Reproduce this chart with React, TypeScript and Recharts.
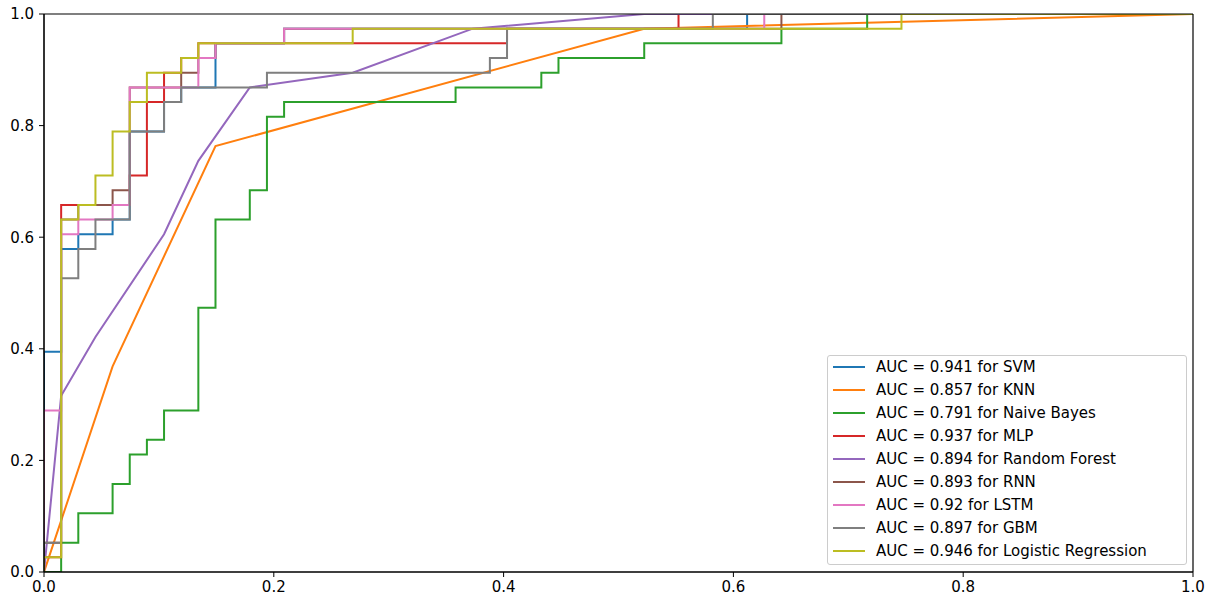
import { LineChart, Line, XAxis, YAxis, ReferenceLine } from 'recharts';

// test set size: roc points below are counted in negatives (fpr) and positives (tpr)
const NEG = 67;
const POS = 38;

const AXIS_TICKS = [0, 0.2, 0.4, 0.6, 0.8, 1.0];

const svmFpr = [0, 0, 1, 1, 2, 2, 4, 4, 5, 5, 7, 7, 8, 8, 10, 10, 14, 14, 41, 41, 67];
const svmTpr = [0, 15, 15, 22, 22, 23, 23, 24, 24, 30, 30, 32, 32, 33, 33, 36, 36, 37, 37, 38, 38];

const knnFpr = [0, 4, 10, 35, 67];
const knnTpr = [0, 14, 29, 37, 38];

const nbFpr = [0, 1, 1, 2, 2, 4, 4, 5, 5, 6, 6, 7, 7, 9, 9, 10, 10, 12, 12, 13, 13, 14, 14, 24, 24, 29, 29, 30, 30, 35, 35, 43, 43, 48, 48, 67];
const nbTpr = [0, 0, 2, 2, 4, 4, 6, 6, 8, 8, 9, 9, 11, 11, 18, 18, 24, 24, 26, 26, 31, 31, 32, 32, 33, 33, 34, 34, 35, 35, 36, 36, 37, 37, 38, 38];

const mlpFpr = [0, 0, 1, 1, 5, 5, 6, 6, 7, 7, 8, 8, 9, 9, 27, 27, 37, 37, 67];
const mlpTpr = [0, 1, 1, 25, 25, 27, 27, 32, 32, 34, 34, 35, 35, 36, 36, 37, 37, 38, 38];

const rfFpr = [0, 1, 3, 7, 9, 12, 18, 25, 35, 67];
const rfTpr = [0, 12, 16, 23, 28, 33, 34, 37, 38, 38];

const rnnFpr = [0, 0, 1, 1, 2, 2, 4, 4, 5, 5, 8, 8, 9, 9, 10, 10, 14, 14, 43, 43, 67];
const rnnTpr = [0, 2, 2, 24, 24, 25, 25, 26, 26, 33, 33, 34, 34, 35, 35, 36, 36, 37, 37, 38, 38];

const lstmFpr = [0, 0, 1, 1, 2, 2, 4, 4, 5, 5, 9, 9, 10, 10, 14, 14, 42, 42, 67];
const lstmTpr = [0, 11, 11, 23, 23, 24, 24, 25, 25, 33, 33, 35, 35, 36, 36, 37, 37, 38, 38];

const gbmFpr = [0, 0, 1, 1, 2, 2, 3, 3, 5, 5, 7, 7, 8, 8, 13, 13, 26, 26, 27, 27, 39, 39, 67];
const gbmTpr = [0, 2, 2, 20, 20, 22, 22, 24, 24, 30, 30, 32, 32, 33, 33, 34, 34, 35, 35, 37, 37, 38, 38];

const lrFpr = [0, 0, 1, 1, 2, 2, 3, 3, 4, 4, 5, 5, 6, 6, 8, 8, 9, 9, 18, 18, 50, 50, 67];
const lrTpr = [0, 1, 1, 24, 24, 25, 25, 27, 27, 30, 30, 32, 32, 34, 34, 35, 35, 36, 36, 37, 37, 38, 38];

const toPoints = (fpr: number[], tpr: number[]) =>
  fpr.map((f, i) => ({ fpr: f / NEG, tpr: tpr[i] / POS }));

// drawn in this order, so Logistic Regression ends up on top
const MODELS = [
  { name: 'SVM', auc: '0.941', color: '#1f77b4', points: toPoints(svmFpr, svmTpr) },
  { name: 'KNN', auc: '0.857', color: '#ff7f0e', points: toPoints(knnFpr, knnTpr) },
  { name: 'Naive Bayes', auc: '0.791', color: '#2ca02c', points: toPoints(nbFpr, nbTpr) },
  { name: 'MLP', auc: '0.937', color: '#d62728', points: toPoints(mlpFpr, mlpTpr) },
  { name: 'Random Forest', auc: '0.894', color: '#9467bd', points: toPoints(rfFpr, rfTpr) },
  { name: 'RNN', auc: '0.893', color: '#8c564b', points: toPoints(rnnFpr, rnnTpr) },
  { name: 'LSTM', auc: '0.92', color: '#e377c2', points: toPoints(lstmFpr, lstmTpr) },
  { name: 'GBM', auc: '0.897', color: '#7f7f7f', points: toPoints(gbmFpr, gbmTpr) },
  { name: 'Logistic Regression', auc: '0.946', color: '#bcbd22', points: toPoints(lrFpr, lrTpr) },
];

const FONT = '"DejaVu Sans", sans-serif';
const tickStyle = { fill: '#000', fontSize: 15, fontFamily: FONT };

function RocLegend() {
  return (
    <div
      style={{
        position: 'absolute',
        left: 827,
        top: 355,
        width: 360,
        height: 210,
        boxSizing: 'border-box',
        border: '1px solid #cccccc',
        borderRadius: 3,
        background: 'rgba(255,255,255,0.8)',
        paddingLeft: 5,
        fontFamily: FONT,
        fontSize: 15,
        color: '#000',
      }}
    >
      {MODELS.map((m) => (
        <div key={m.name} style={{ display: 'flex', alignItems: 'center', height: 22.9 }}>
          <span style={{ display: 'inline-block', width: 32, height: 2, background: m.color }} />
          <span style={{ marginLeft: 11, whiteSpace: 'nowrap' }}>
            AUC = {m.auc} for {m.name}
          </span>
        </div>
      ))}
    </div>
  );
}

export default function App() {
  return (
    <div
      style={{
        position: 'fixed',
        left: 0,
        top: 0,
        width: 1214,
        height: 601,
        background: '#fff',
      }}
    >
      <LineChart width={1214} height={601} margin={{ top: 14, right: 21, bottom: 0, left: 0 }}>
        <XAxis
          type="number"
          dataKey="fpr"
          domain={[0, 1]}
          ticks={AXIS_TICKS}
          tickFormatter={(v: number) => v.toFixed(1)}
          height={29}
          tickSize={5}
          tickMargin={4}
          tick={tickStyle}
          axisLine={{ stroke: '#000' }}
          tickLine={{ stroke: '#000' }}
          allowDataOverflow
        />
        <YAxis
          type="number"
          domain={[0, 1]}
          ticks={AXIS_TICKS}
          tickFormatter={(v: number) => v.toFixed(1)}
          width={44}
          tickSize={5}
          tickMargin={5}
          tick={tickStyle}
          axisLine={{ stroke: '#000' }}
          tickLine={{ stroke: '#000' }}
          allowDataOverflow
        />
        {MODELS.map((m) => (
          <Line
            key={m.name}
            data={m.points}
            dataKey="tpr"
            name={m.name}
            type="linear"
            stroke={m.color}
            strokeWidth={2}
            dot={false}
            activeDot={false}
            isAnimationActive={false}
          />
        ))}
        {/* spines on top of the curves, as matplotlib draws them */}
        <ReferenceLine y={1} stroke="#000" strokeWidth={1.2} />
        <ReferenceLine x={1} stroke="#000" strokeWidth={1.2} />
        <ReferenceLine y={0} stroke="#000" strokeWidth={1.2} />
        <ReferenceLine x={0} stroke="#000" strokeWidth={1.2} />
      </LineChart>
      <RocLegend />
    </div>
  );
}
